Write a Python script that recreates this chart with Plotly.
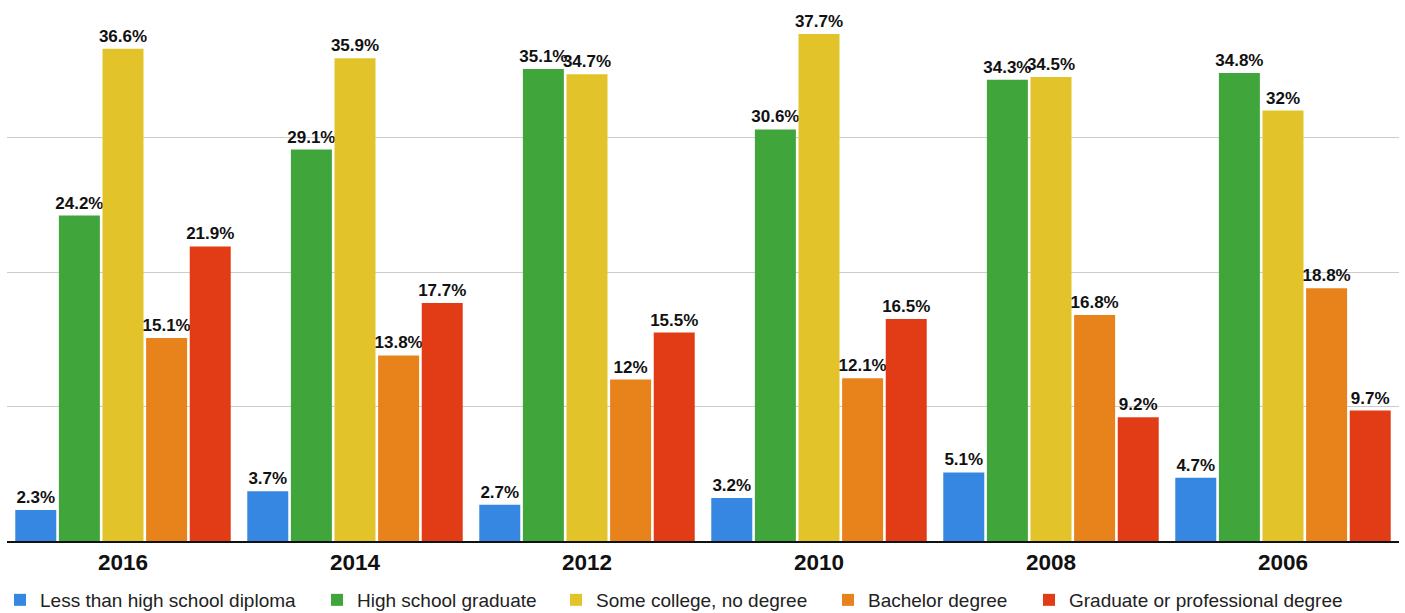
import plotly.graph_objects as go

# Survey years (x categories) and education-level shares (%)
years = ["2016", "2014", "2012", "2010", "2008", "2006"]

less_than_hs = [2.3, 3.7, 2.7, 3.2, 5.1, 4.7]
hs_graduate = [24.2, 29.1, 35.1, 30.6, 34.3, 34.8]
some_college = [36.6, 35.9, 34.7, 37.7, 34.5, 32]
bachelor = [15.1, 13.8, 12, 12.1, 16.8, 18.8]
graduate = [21.9, 17.7, 15.5, 16.5, 9.2, 9.7]

series = [
    ("Less than high school diploma", less_than_hs, "#3587e2"),
    ("High school graduate", hs_graduate, "#40a53a"),
    ("Some college, no degree", some_college, "#e2c42a"),
    ("Bachelor degree", bachelor, "#e8821a"),
    ("Graduate or professional degree", graduate, "#e23c16"),
]

# left edge (px) of each legend entry along the bottom row
legend_left_px = [0, 317, 556, 828, 1029]

W, H = 1405, 613
legend_font = dict(family="Liberation Sans", size=19, color="#222222")

fig = go.Figure()
layout_legends = {}
for i, (name, vals, color) in enumerate(series):
    key = "legend" if i == 0 else f"legend{i + 1}"
    fig.add_trace(go.Bar(
        x=years,
        y=vals,
        name=name,
        legend=key,
        marker=dict(color=color, line=dict(width=0)),
        text=[f"{v:g}%" for v in vals],
        textposition="outside",
        constraintext="none",
        textfont=dict(family="Liberation Sans", size=17, color="#111111", weight="bold"),
        cliponaxis=False,
    ))
    layout_legends[key] = dict(
        orientation="h",
        xref="container", yref="container",
        x=legend_left_px[i] / W, y=1 - 600 / H,
        xanchor="left", yanchor="middle",
        font=legend_font,
        bgcolor="rgba(0,0,0,0)",
        borderwidth=0,
    )

fig.update_layout(
    width=W,
    height=H,
    margin=dict(l=7, r=6, t=3, b=72, autoexpand=False),
    paper_bgcolor="white",
    plot_bgcolor="white",
    barmode="group",
    bargap=0.06,
    bargroupgap=0.06,
    showlegend=True,
    xaxis=dict(
        automargin=False,
        showgrid=False,
        showline=True,
        linecolor="#111111",
        linewidth=2,
        ticks="",
        tickfont=dict(family="Liberation Sans", size=22.5, color="#111111", weight="bold"),
    ),
    yaxis=dict(
        automargin=False,
        range=[0, 40],
        dtick=10,
        showgrid=True,
        gridcolor="#cccccc",
        gridwidth=1,
        showticklabels=False,
        zeroline=False,
        showline=False,
    ),
    **layout_legends,
)

fig.write_html("out.html")
